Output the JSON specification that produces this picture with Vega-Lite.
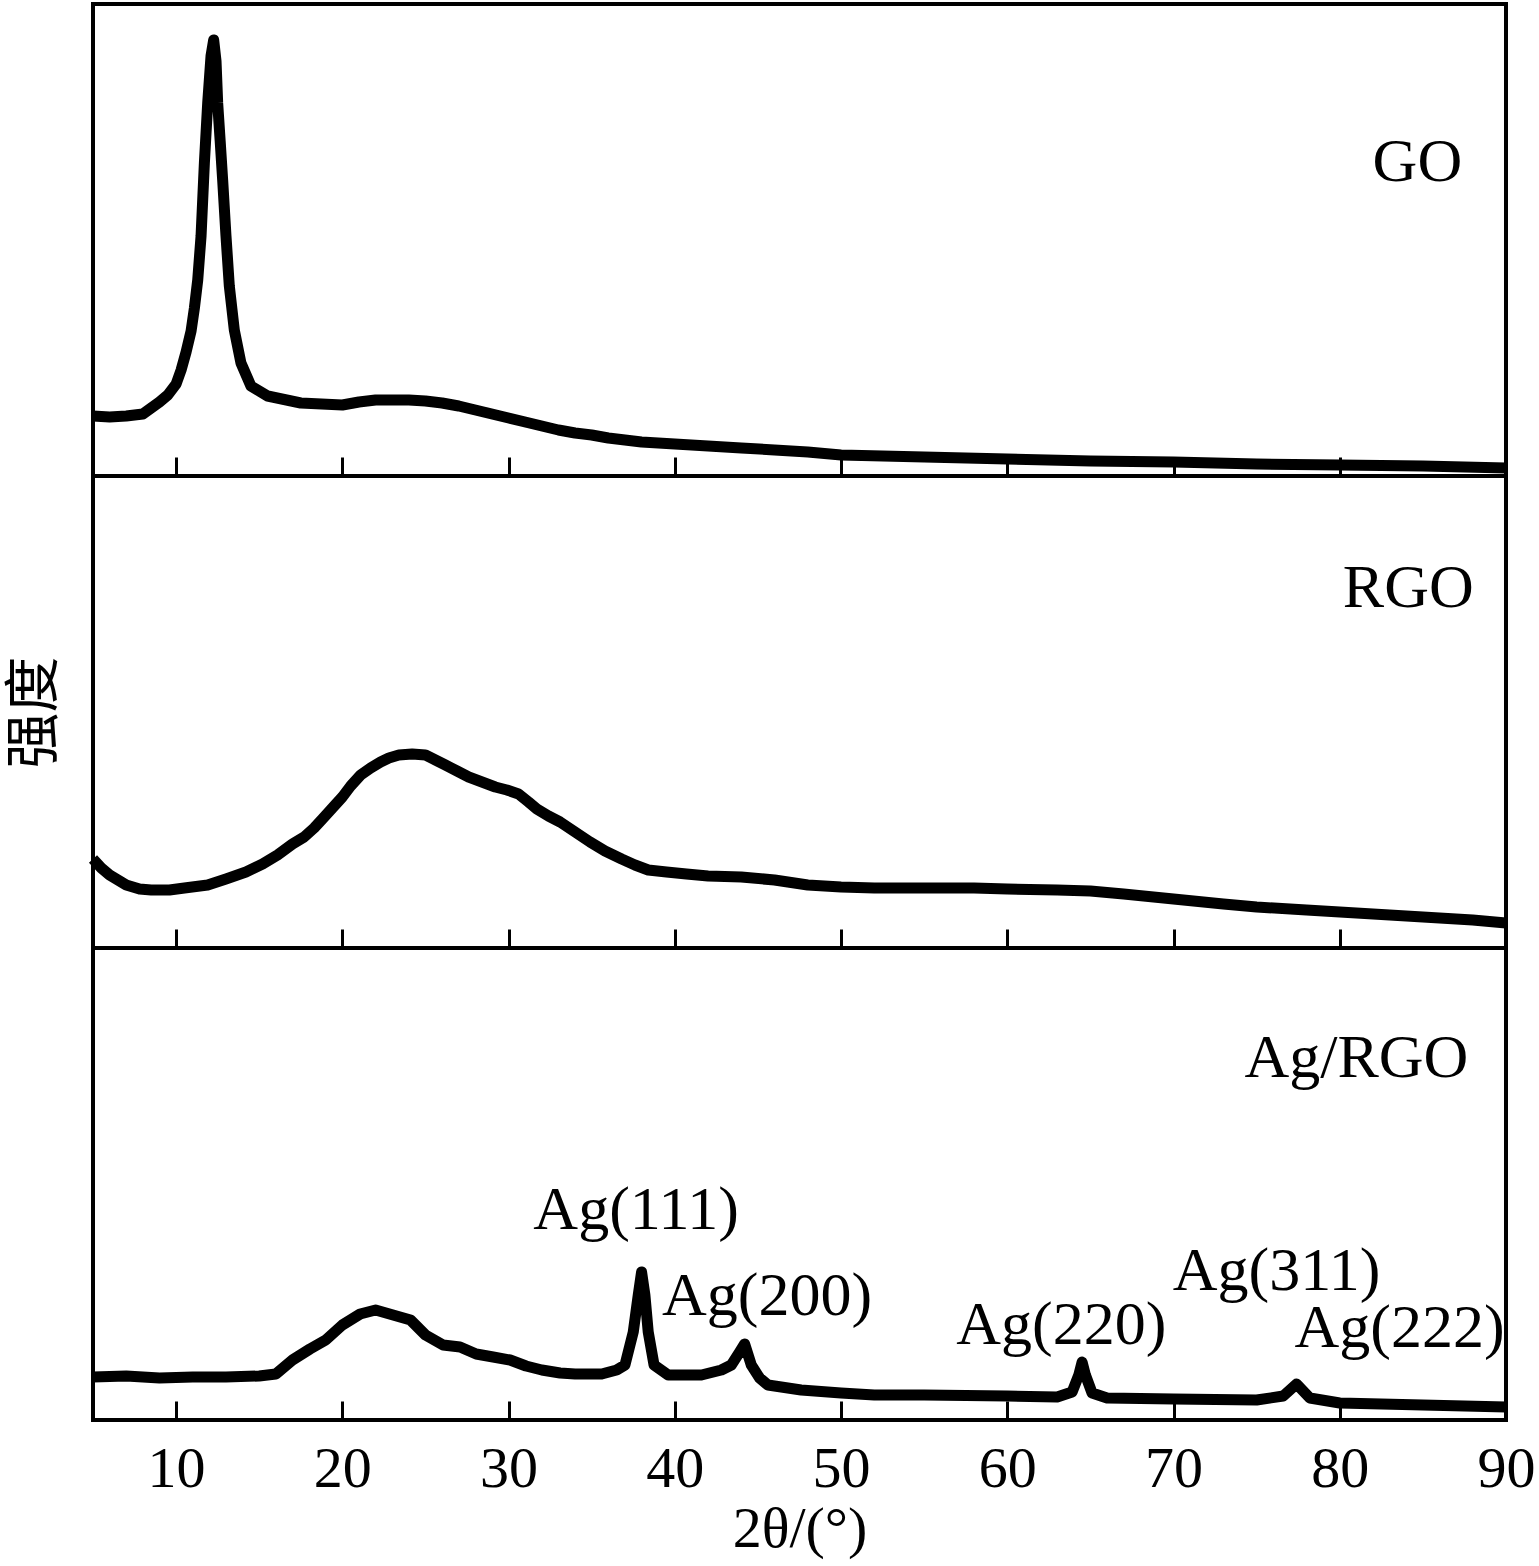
{
  "$schema": "https://vega.github.io/schema/vega-lite/v6.json",
  "background": "white",
  "padding": {"left": 4, "top": 2, "right": 30, "bottom": 0},
  "spacing": 0,
  "bounds": "flush",
  "datasets": {
    "go": [
      {"x": 5, "y": 60}, {"x": 6, "y": 59}, {"x": 7, "y": 60}, {"x": 8, "y": 62}, {"x": 8.5, "y": 68},
      {"x": 9, "y": 74}, {"x": 9.5, "y": 81}, {"x": 10, "y": 92}, {"x": 10.3, "y": 106}, {"x": 10.6, "y": 124},
      {"x": 10.9, "y": 145}, {"x": 11.1, "y": 168}, {"x": 11.3, "y": 196}, {"x": 11.5, "y": 240}, {"x": 11.7, "y": 313},
      {"x": 11.9, "y": 373}, {"x": 12.1, "y": 420}, {"x": 12.26, "y": 436}, {"x": 12.4, "y": 415}, {"x": 12.5, "y": 373},
      {"x": 12.65, "y": 335}, {"x": 12.8, "y": 296}, {"x": 13.0, "y": 240}, {"x": 13.2, "y": 190}, {"x": 13.5, "y": 146},
      {"x": 13.9, "y": 113}, {"x": 14.5, "y": 90}, {"x": 15.5, "y": 80}, {"x": 17.5, "y": 73}, {"x": 20, "y": 71},
      {"x": 21, "y": 74}, {"x": 22, "y": 76}, {"x": 23, "y": 76}, {"x": 24, "y": 76}, {"x": 25, "y": 75},
      {"x": 26, "y": 73}, {"x": 27, "y": 70}, {"x": 28, "y": 66}, {"x": 29, "y": 62}, {"x": 30, "y": 58},
      {"x": 31, "y": 54}, {"x": 32, "y": 50}, {"x": 33, "y": 46}, {"x": 34, "y": 43}, {"x": 35, "y": 41},
      {"x": 36, "y": 38}, {"x": 37, "y": 36}, {"x": 38, "y": 34}, {"x": 40, "y": 32}, {"x": 42, "y": 30},
      {"x": 44, "y": 28}, {"x": 46, "y": 26}, {"x": 48, "y": 24}, {"x": 50, "y": 21}, {"x": 55, "y": 19},
      {"x": 60, "y": 17}, {"x": 65, "y": 15}, {"x": 70, "y": 14}, {"x": 75, "y": 12}, {"x": 80, "y": 11},
      {"x": 85, "y": 10}, {"x": 90, "y": 8}
    ],
    "rgo": [
      {"x": 5, "y": 89}, {"x": 5.5, "y": 80}, {"x": 6, "y": 73}, {"x": 6.4, "y": 69}, {"x": 7, "y": 63},
      {"x": 7.8, "y": 59}, {"x": 8.5, "y": 58}, {"x": 9.6, "y": 58}, {"x": 10.5, "y": 60}, {"x": 11.9, "y": 63},
      {"x": 13, "y": 69}, {"x": 14.2, "y": 76}, {"x": 15.2, "y": 84}, {"x": 16.1, "y": 93}, {"x": 17, "y": 104},
      {"x": 17.7, "y": 111}, {"x": 18.3, "y": 120}, {"x": 18.8, "y": 129}, {"x": 19.4, "y": 140}, {"x": 20.0, "y": 151},
      {"x": 20.5, "y": 162}, {"x": 21.1, "y": 173}, {"x": 21.7, "y": 180}, {"x": 22.3, "y": 186}, {"x": 22.8, "y": 190},
      {"x": 23.4, "y": 193}, {"x": 24.2, "y": 194}, {"x": 25.0, "y": 193}, {"x": 25.6, "y": 188}, {"x": 26.2, "y": 183},
      {"x": 26.9, "y": 177}, {"x": 27.6, "y": 171}, {"x": 28.4, "y": 166}, {"x": 29.2, "y": 161}, {"x": 29.9, "y": 158},
      {"x": 30.6, "y": 154}, {"x": 31.2, "y": 146}, {"x": 31.7, "y": 139}, {"x": 32.4, "y": 132}, {"x": 33.1, "y": 126},
      {"x": 34.0, "y": 116}, {"x": 34.9, "y": 106}, {"x": 35.8, "y": 97}, {"x": 36.8, "y": 89}, {"x": 37.6, "y": 83},
      {"x": 38.4, "y": 78}, {"x": 39.5, "y": 76}, {"x": 40.7, "y": 74}, {"x": 42, "y": 72}, {"x": 44, "y": 71},
      {"x": 46, "y": 68}, {"x": 48, "y": 63}, {"x": 50, "y": 61}, {"x": 52, "y": 60}, {"x": 55, "y": 60},
      {"x": 58, "y": 60}, {"x": 60, "y": 59}, {"x": 63, "y": 58}, {"x": 65, "y": 57}, {"x": 67, "y": 54},
      {"x": 70, "y": 49}, {"x": 73, "y": 44}, {"x": 75, "y": 41}, {"x": 78, "y": 38}, {"x": 80, "y": 36},
      {"x": 83, "y": 33}, {"x": 85, "y": 31}, {"x": 88, "y": 28}, {"x": 90, "y": 25}
    ],
    "agrgo": [
      {"x": 5, "y": 43}, {"x": 7, "y": 44}, {"x": 9, "y": 42}, {"x": 11, "y": 43}, {"x": 13, "y": 43},
      {"x": 15, "y": 44}, {"x": 16, "y": 46}, {"x": 17, "y": 60}, {"x": 18.05, "y": 71}, {"x": 19, "y": 80},
      {"x": 20, "y": 95}, {"x": 21.07, "y": 106}, {"x": 22, "y": 110}, {"x": 23.05, "y": 105}, {"x": 24.1, "y": 100},
      {"x": 25, "y": 85}, {"x": 26.06, "y": 75}, {"x": 27.08, "y": 73}, {"x": 28.05, "y": 66}, {"x": 29.07, "y": 63},
      {"x": 30.09, "y": 60}, {"x": 31.05, "y": 54}, {"x": 32, "y": 50}, {"x": 33.1, "y": 47}, {"x": 34, "y": 46},
      {"x": 35.6, "y": 46}, {"x": 36.5, "y": 50}, {"x": 37.0, "y": 55}, {"x": 37.5, "y": 88}, {"x": 37.8, "y": 125},
      {"x": 38.0, "y": 148}, {"x": 38.2, "y": 125}, {"x": 38.4, "y": 88}, {"x": 38.75, "y": 55}, {"x": 39.6, "y": 45},
      {"x": 41.6, "y": 45}, {"x": 42.8, "y": 50}, {"x": 43.4, "y": 55}, {"x": 43.9, "y": 68}, {"x": 44.2, "y": 76},
      {"x": 44.6, "y": 55}, {"x": 45.1, "y": 42}, {"x": 45.6, "y": 35}, {"x": 47.6, "y": 30}, {"x": 50, "y": 27},
      {"x": 52, "y": 25}, {"x": 55, "y": 25}, {"x": 60, "y": 24}, {"x": 63, "y": 23}, {"x": 63.9, "y": 28},
      {"x": 64.3, "y": 45}, {"x": 64.5, "y": 58}, {"x": 64.7, "y": 45}, {"x": 65.1, "y": 27}, {"x": 66, "y": 22},
      {"x": 70, "y": 21}, {"x": 75, "y": 20}, {"x": 76.6, "y": 24}, {"x": 77.4, "y": 36}, {"x": 78.2, "y": 22},
      {"x": 80, "y": 17}, {"x": 85, "y": 15}, {"x": 90, "y": 13}
    ],
    "labels_go": [{"x": 84.67, "y": 295, "text": "GO"}],
    "labels_rgo": [{"x": 84.12, "y": 341, "text": "RGO"}],
    "labels_agrgo": [
      {"x": 81.0, "y": 343, "text": "Ag/RGO"},
      {"x": 37.67, "y": 191, "text": "Ag(111)"},
      {"x": 45.55, "y": 105, "text": "Ag(200)"},
      {"x": 63.25, "y": 76, "text": "Ag(220)"},
      {"x": 76.2, "y": 130, "text": "Ag(311)"},
      {"x": 83.6, "y": 73, "text": "Ag(222)"}
    ]
  },
  "vconcat": [
    {
      "width": 1413,
      "height": 472,
      "encoding": {
        "x": {"field": "x", "type": "quantitative", "scale": {"domain": [5, 90], "nice": false},
              "axis": {"title": null, "labels": false, "values": [10, 20, 30, 40, 50, 60, 70, 80]}},
        "y": {"field": "y", "type": "quantitative", "scale": {"domain": [0, 472], "nice": false},
              "axis": {"title": null, "labels": false, "ticks": false, "domain": false, "grid": false}}
      },
      "layer": [
        {"data": {"name": "go"}, "mark": {"type": "line", "color": "black", "strokeWidth": 11, "strokeJoin": "round"}},
        {"data": {"name": "labels_go"}, "mark": {"type": "text", "font": "Liberation Serif", "fontSize": 62, "align": "center", "baseline": "alphabetic", "color": "black"},
         "encoding": {"text": {"field": "text"}}}
      ]
    },
    {
      "width": 1413,
      "height": 472,
      "encoding": {
        "x": {"field": "x", "type": "quantitative", "scale": {"domain": [5, 90], "nice": false},
              "axis": {"title": null, "labels": false, "values": [10, 20, 30, 40, 50, 60, 70, 80]}},
        "y": {"field": "y", "type": "quantitative", "scale": {"domain": [0, 472], "nice": false},
              "axis": {"title": "强度", "labels": false, "ticks": false, "domain": false, "grid": false}}
      },
      "layer": [
        {"data": {"name": "rgo"}, "mark": {"type": "line", "color": "black", "strokeWidth": 11, "strokeJoin": "round"}},
        {"data": {"name": "labels_rgo"}, "mark": {"type": "text", "font": "Liberation Serif", "fontSize": 62, "align": "center", "baseline": "alphabetic", "color": "black"},
         "encoding": {"text": {"field": "text"}}}
      ]
    },
    {
      "width": 1413,
      "height": 472,
      "encoding": {
        "x": {"field": "x", "type": "quantitative", "scale": {"domain": [5, 90], "nice": false},
              "axis": {"title": "2θ/(°)", "values": [10, 20, 30, 40, 50, 60, 70, 80, 90]}},
        "y": {"field": "y", "type": "quantitative", "scale": {"domain": [0, 472], "nice": false},
              "axis": {"title": null, "labels": false, "ticks": false, "domain": false, "grid": false}}
      },
      "layer": [
        {"data": {"name": "agrgo"}, "mark": {"type": "line", "color": "black", "strokeWidth": 11, "strokeJoin": "round"}},
        {"data": {"name": "labels_agrgo"}, "mark": {"type": "text", "font": "Liberation Serif", "fontSize": 62, "align": "center", "baseline": "alphabetic", "color": "black"},
         "encoding": {"text": {"field": "text"}}}
      ]
    }
  ],
  "config": {
    "view": {"stroke": "black", "strokeWidth": 4},
    "axisX": {
      "grid": false,
      "domain": false,
      "tickSize": -19,
      "tickWidth": 3,
      "tickColor": "black",
      "labelFont": "Liberation Serif",
      "labelFontSize": 58,
      "labelColor": "black",
      "labelPadding": 39,
      "labelFlush": false,
      "labelOverlap": false,
      "titleFont": "Liberation Serif",
      "titleFontSize": 58,
      "titleFontWeight": "normal",
      "titleColor": "black",
      "titlePadding": 2
    },
    "axisY": {
      "titleFont": "Noto Sans CJK SC",
      "titleFontSize": 56,
      "titleFontWeight": "normal",
      "titleColor": "black",
      "titlePadding": 30
    }
  }
}
